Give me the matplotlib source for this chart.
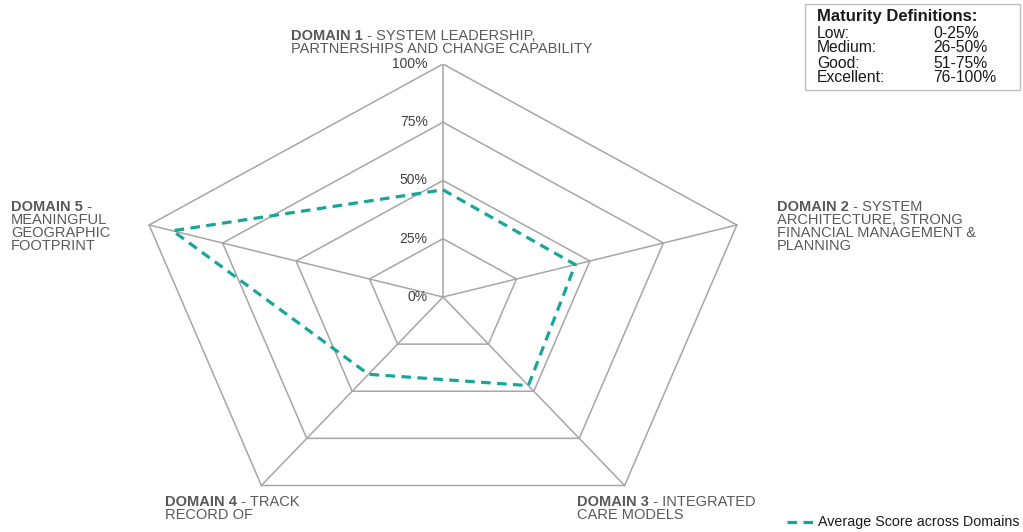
import numpy as np
import matplotlib.pyplot as plt

plt.rcParams['font.family'] = ['Liberation Sans', 'DejaVu Sans']

domains = ['DOMAIN 1', 'DOMAIN 2', 'DOMAIN 3', 'DOMAIN 4', 'DOMAIN 5']
domain_text = [
    [' - SYSTEM LEADERSHIP,', 'PARTNERSHIPS AND CHANGE CAPABILITY'],
    [' - SYSTEM', 'ARCHITECTURE, STRONG', 'FINANCIAL MANAGEMENT &', 'PLANNING'],
    [' - INTEGRATED', 'CARE MODELS'],
    [' - TRACK', 'RECORD OF'],
    [' -', 'MEANINGFUL', 'GEOGRAPHIC', 'FOOTPRINT'],
]
avg_score = [0.46, 0.45, 0.47, 0.41, 0.92]
rings = [0.25, 0.50, 0.75, 1.00]
ring_labels = ['0%', '25%', '50%', '75%', '100%']
maturity_levels = ['Low:', 'Medium:', 'Good:', 'Excellent:']
maturity_ranges = ['0-25%', '26-50%', '51-75%', '76-100%']

W, H = 1023, 532
fig = plt.figure(figsize=(W / 100, H / 100), dpi=100)

# radar drawn on plain axes so it can be stretched like the original
cx, cy, rx, ry = 443, 297, 309, 233
ax = fig.add_axes([(cx - rx) / W, (H - cy - ry) / H, 2 * rx / W, 2 * ry / H])
ax.set_xlim(-1, 1)
ax.set_ylim(-1, 1)
ax.axis('off')

theta = np.linspace(0, 2 * np.pi, len(domains), endpoint=False)
theta_c = np.append(theta, theta[0])
sx, sy = np.sin(theta_c), np.cos(theta_c)
grid_col = '#a6a6a6'
for r in rings:
    ax.plot(r * sx, r * sy, color=grid_col, lw=1.1, zorder=1)
for i in range(len(domains)):
    ax.plot([0, sx[i]], [0, sy[i]], color=grid_col, lw=1.1, zorder=1)

v = np.append(avg_score, avg_score[0])
teal = '#1aa59a'
ax.plot(v * sx, v * sy, color=teal, lw=2.3, dashes=(3.0, 2.0), zorder=3)

for lab, r in zip(ring_labels, [0] + rings):
    ax.annotate(lab, (0, r), xytext=(-11, 0), textcoords='offset points',
                ha='right', va='center', fontsize=10, color='#404040')

fig.canvas.draw()
renderer = fig.canvas.get_renderer()
txt_col = '#595959'
fs = 10.5


def px(x, y):
    return x / W, 1 - y / H


label_pos = [(291, 36), (777, 207), (577, 502), (165, 502), (11, 207)]
for name, lines, (lx, ly) in zip(domains, domain_text, label_pos):
    t = fig.text(*px(lx, ly), name, fontsize=fs, fontweight='bold',
                 color=txt_col, va='center', ha='left')
    bb = t.get_window_extent(renderer)
    fig.text(*px(lx + bb.width, ly), lines[0], fontsize=fs, color=txt_col,
             va='center', ha='left')
    for k, line in enumerate(lines[1:]):
        fig.text(*px(lx, ly + 13 * (k + 1)), line, fontsize=fs, color=txt_col,
                 va='center', ha='left')

# maturity definitions box
box = plt.Rectangle(px(805, 90), 215 / W, 86 / H, transform=fig.transFigure,
                    fill=False, edgecolor='#bfbfbf', lw=1)
fig.patches.append(box)
fig.text(*px(817, 17), 'Maturity Definitions:', fontsize=12, fontweight='bold',
         color='#1a1a1a', va='center')
for k, (lvl, rng) in enumerate(zip(maturity_levels, maturity_ranges)):
    fig.text(*px(817, 33 + 15 * k), lvl, fontsize=11.3, color='#1a1a1a', va='center')
    fig.text(*px(933, 33 + 15 * k), rng, fontsize=11.3, color='#1a1a1a', va='center')

# legend
leg_ax = fig.add_axes([787 / W, 0, 26 / W, 20 / H])
leg_ax.set_xlim(0, 1)
leg_ax.set_ylim(0, 1)
leg_ax.axis('off')
leg_ax.plot([0, 1], [0.5, 0.5], color=teal, lw=2.3, dashes=(3.0, 2.0))
fig.text(*px(818, 522), 'Average Score across Domains', fontsize=10.3,
         color='#1a1a1a', va='center')

fig.savefig('out.png', dpi=100)
